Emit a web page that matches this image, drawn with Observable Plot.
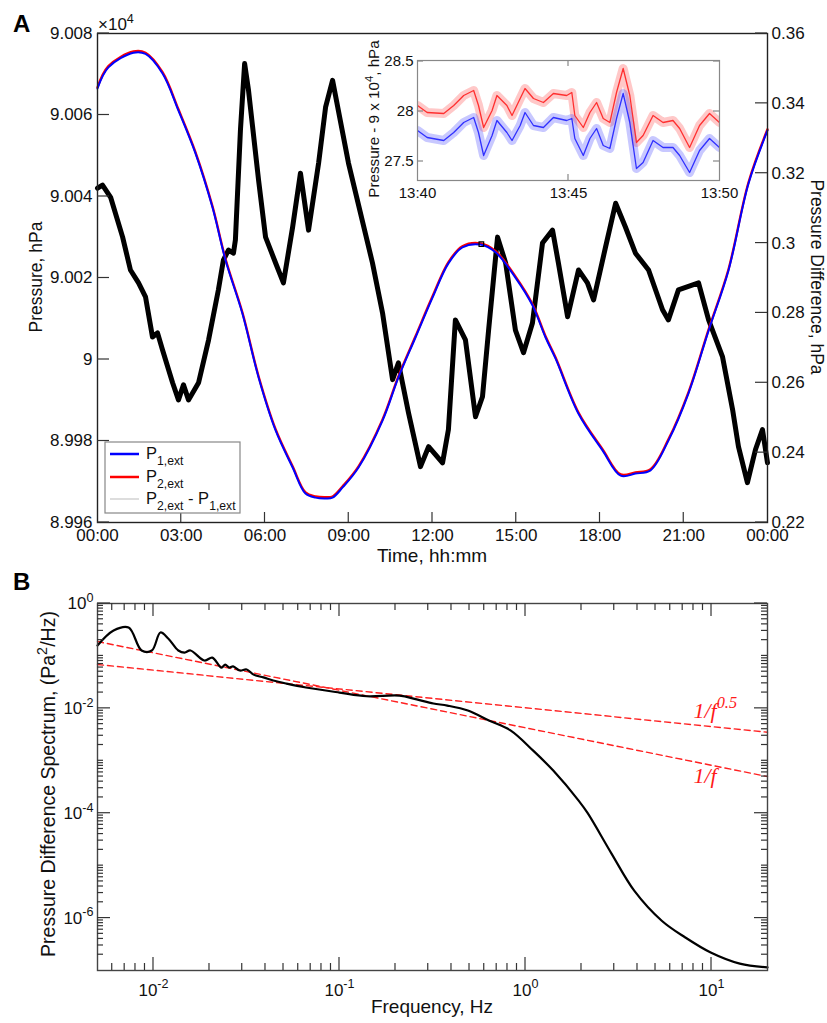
<!DOCTYPE html>
<html><head><meta charset="utf-8">
<script src="https://cdn.jsdelivr.net/npm/d3@7"></script>
<script src="https://cdn.jsdelivr.net/npm/@observablehq/plot@0.6"></script>
<style>
body{margin:0;background:#fff;}
#wrap{position:relative;width:827px;height:1023px;background:#fff;}
</style></head><body><div id="wrap"></div>
<script>
// ---------------- DATA ----------------
// Panel A: pressures (x10^4 hPa) vs time of day (hours)
const pTime = [0.00,0.39,1.29,1.72,2.33,2.90,3.51,4.12,4.59,5.19,5.77,6.38,6.99,7.45,7.81,8.17,8.42,8.78,9.35,10.21,10.78,11.39,12.00,12.57,13.07,13.72,14.26,14.97,15.58,16.05,16.41,17.23,18.09,18.74,19.27,19.81,20.45,21.17,21.89,22.60,23.32,24.00];
const p1 = [9.00665,9.00717,9.00753,9.00750,9.00702,9.00611,9.00506,9.00373,9.00243,9.00113,8.99956,8.99826,8.99735,8.99671,8.99661,8.99659,8.99661,8.99686,8.99735,8.99850,8.99956,9.00054,9.00152,9.00236,9.00275,9.00282,9.00263,9.00201,9.00133,9.00054,9.00002,8.99867,8.99777,8.99715,8.99720,8.99728,8.99801,8.99917,9.00071,9.00218,9.00432,9.00562];
const p2 = [9.00668,9.00720,9.00756,9.00753,9.00705,9.00614,9.00509,9.00376,9.00246,9.00116,8.99959,8.99829,8.99738,8.99674,8.99664,8.99662,8.99664,8.99689,8.99738,8.99853,8.99959,9.00057,9.00155,9.00239,9.00278,9.00285,9.00266,9.00204,9.00136,9.00057,9.00005,8.99870,8.99780,8.99718,8.99723,8.99731,8.99804,8.99920,9.00074,9.00221,9.00435,9.00565];
// Panel A: pressure difference (hPa, right axis)
const diffHours = [0.00,0.18,0.47,0.90,1.18,1.47,1.72,1.97,2.15,2.33,2.69,2.90,3.08,3.26,3.62,3.98,4.33,4.51,4.69,4.87,4.94,5.12,5.27,5.41,5.77,6.02,6.38,6.66,6.99,7.27,7.56,7.92,8.17,8.42,8.99,9.85,10.21,10.57,10.78,11.14,11.57,11.86,12.36,12.57,12.82,13.18,13.54,13.79,14.01,14.33,14.62,14.97,15.26,15.58,15.94,16.30,16.51,16.84,17.23,17.55,17.77,18.20,18.56,18.91,19.27,19.74,20.24,20.45,20.81,21.53,21.89,22.39,22.75,22.96,23.28,23.57,23.82,24.00];
const diffValues = [0.3157,0.3166,0.3131,0.3017,0.2923,0.2886,0.2846,0.2731,0.2743,0.2694,0.2600,0.2551,0.2594,0.2551,0.2600,0.2723,0.2866,0.2951,0.2980,0.2971,0.3009,0.3323,0.3514,0.3437,0.3180,0.3017,0.2943,0.2886,0.3046,0.3200,0.3037,0.3229,0.3389,0.3466,0.3229,0.2943,0.2800,0.2609,0.2657,0.2514,0.2360,0.2417,0.2371,0.2466,0.2780,0.2723,0.2503,0.2560,0.2751,0.3017,0.2943,0.2751,0.2686,0.2771,0.3000,0.3037,0.2943,0.2789,0.2923,0.2886,0.2837,0.2989,0.3114,0.3046,0.2971,0.2923,0.2809,0.2780,0.2866,0.2886,0.2780,0.2674,0.2523,0.2417,0.2314,0.2409,0.2466,0.2371];
// zoom marker
const markerTime = [13.75];
const markerPressure = [9.00283];
// Inset: minutes after 13:40, pressure - 9e4 hPa
const insetMinutes = [0,0.32,0.87,1.20,1.53,1.86,2.02,2.19,2.47,2.63,2.96,3.13,3.40,3.56,3.84,4.17,4.50,4.94,5.11,5.21,5.49,5.71,5.93,6.15,6.37,6.59,6.81,7.03,7.25,7.47,7.80,8.13,8.46,8.68,9.01,9.34,9.67,10.0];
const insetP2 = [28.06,27.99,27.98,28.06,28.16,28.21,28.06,27.84,28.01,28.16,28.06,27.96,28.13,28.23,28.13,28.09,28.18,28.16,28.19,27.96,27.84,27.99,28.09,27.93,27.89,28.19,28.43,28.16,27.69,27.76,27.96,27.89,27.91,27.83,27.64,27.86,27.98,27.89];
const insetP1 = [27.81,27.74,27.71,27.79,27.89,27.94,27.79,27.56,27.76,27.91,27.79,27.71,27.86,27.99,27.86,27.84,27.94,27.91,27.93,27.73,27.56,27.73,27.83,27.66,27.63,27.93,28.18,27.89,27.43,27.49,27.71,27.64,27.64,27.56,27.39,27.61,27.73,27.64];
// Panel B: spectrum
const specFreq = [0.005,0.0061,0.00735,0.00863,0.0098,0.0109,0.012,0.0136,0.0147,0.0158,0.0188,0.0207,0.0232,0.0243,0.0255,0.0268,0.0291,0.0317,0.0345,0.039,0.044,0.052,0.066,0.1,0.14,0.21,0.26,0.32,0.38,0.49,0.64,0.83,1.10,1.41,1.93,2.16,2.9,3.85,5.4,7.2,9.9,14.2,20];
const specPower = [0.158,0.305,0.348,0.127,0.127,0.28,0.215,0.127,0.116,0.127,0.0817,0.093,0.060,0.068,0.060,0.063,0.0527,0.055,0.044,0.039,0.034,0.0296,0.025,0.020,0.017,0.0175,0.0148,0.0124,0.0113,0.0091,0.0058,0.0038,0.00156,0.00065,1.74e-4,1.0e-4,1.7e-5,3.3e-6,8.9e-7,4.3e-7,2.2e-7,1.35e-7,1.15e-7];
// reference slopes (endpoints)
const fitFreq = [0.005,20];
const fitHalf = [0.0686,0.0035];
const fitOne = [0.188,5.0e-4];
const annotFreq = [8.0,8.0];
const annotPower = [0.0091,5.2e-4];
const annotLabels = ["1/f^{0.5}","1/f"];
// ticks
const timeTicks = [0,3,6,9,12,15,18,21,24];
const timeTickLabels = ["00:00","03:00","06:00","09:00","12:00","15:00","18:00","21:00","00:00"];
const leftTicks = [8.996,8.998,9.000,9.002,9.004,9.006,9.008];
const leftTickLabels = ["8.996","8.998","9","9.002","9.004","9.006","9.008"];
const rightTicks = [0.22,0.24,0.26,0.28,0.30,0.32,0.34,0.36];
const rightTickLabels = ["0.22","0.24","0.26","0.28","0.3","0.32","0.34","0.36"];
const insetYTicks = [27.5,28,28.5];
const insetYTickLabels = ["27.5","28","28.5"];
const insetXTicks = [0,5,10];
const insetXTickLabels = ["13:40","13:45","13:50"];
const freqMajor = [0.01,0.1,1,10];
const freqMajorLabels = ["10^{-2}","10^{-1}","10^{0}","10^{1}"];
const powLabeled = [1,1e-2,1e-4,1e-6];
const powLabels = ["10^{0}","10^{-2}","10^{-4}","10^{-6}"];

// ---------------- HELPERS ----------------
const FONT = '"Liberation Sans", Arial, Helvetica, sans-serif';
const SVGNS = "http://www.w3.org/2000/svg";
const wrap = document.getElementById("wrap");
function place(el, left, top){el.style.position="absolute";el.style.left=left+"px";el.style.top=top+"px";wrap.appendChild(el);return el;}
function lab(ticks, labels){return d => {const i = ticks.findIndex(t => Math.abs(t-d) < 1e-9*Math.max(1,Math.abs(d))); return i>=0 ? labels[i] : "";};}
function labelsY(data, anchor, pad, fmt){return Plot.axisY(data,{anchor, tickSize:0, tickPadding:pad, tickFormat:fmt, label:null});}
function labelsX(data, anchor, pad, fmt){return Plot.axisX(data,{anchor, tickSize:0, tickPadding:pad, tickFormat:fmt, label:null});}
function richify(root){
  root.querySelectorAll("text").forEach(el=>{
    const s = el.textContent;
    if(!/[\^_]\{/.test(s)) return;
    const fs = parseFloat(getComputedStyle(el).fontSize)||16;
    while(el.firstChild) el.removeChild(el.firstChild);
    const parts = s.split(/(\^\{[^}]*\}|_\{[^}]*\})/).filter(p=>p.length);
    let cur=0;
    for(const p of parts){
      const t=document.createElementNS(SVGNS,"tspan");
      let target=0, txt=p, small=false;
      if(p.startsWith("^{")){target=-0.42*fs;txt=p.slice(2,-1);small=true;}
      else if(p.startsWith("_{")){target=0.36*fs;txt=p.slice(2,-1);small=true;}
      if(target!==cur) t.setAttribute("dy",(target-cur).toFixed(2));
      cur=target;
      if(small) t.style.fontSize=(0.74*fs).toFixed(1)+"px";
      t.textContent=txt;
      el.appendChild(t);
    }
  });
}

// ---------------- PANEL A: pressure difference (bottom layer) ----------------
const diffData = diffHours.map((t,i)=>({t, v: diffValues[i]}));
const diffPlot = Plot.plot({
  width:827, height:570, marginTop:33, marginBottom:48, marginLeft:97, marginRight:60,
  x:{domain:[0,24], axis:null}, y:{domain:[0.22,0.36], axis:null},
  style:{fontFamily:FONT, fontSize:"17px", color:"#111", background:"transparent", overflow:"visible"},
  marks:[
    Plot.line(diffData,{x:"t",y:"v",stroke:"#000",strokeWidth:5,strokeLinejoin:"round"}),
    labelsY(rightTicks,"right",4,lab(rightTicks,rightTickLabels))
  ]
});
place(diffPlot,0,0);

// ---------------- PANEL A: pressures (top layer) ----------------
const pData = pTime.map((t,i)=>({t, p1:p1[i], p2:p2[i]}));
const markData = markerTime.map((t,i)=>({t, p:markerPressure[i]}));
const presPlot = Plot.plot({
  width:827, height:570, marginTop:33, marginBottom:48, marginLeft:97, marginRight:60,
  x:{domain:[0,24], axis:null}, y:{domain:[8.996,9.008], axis:null},
  style:{fontFamily:FONT, fontSize:"17px", color:"#111", background:"transparent", overflow:"visible"},
  marks:[
    Plot.line(pData,{x:"t",y:"p2",stroke:"#ff0000",strokeWidth:2.3,curve:"catmull-rom"}),
    Plot.line(pData,{x:"t",y:"p1",stroke:"#0000ff",strokeWidth:2,curve:"catmull-rom"}),
    Plot.dot(markData,{x:"t",y:"p",symbol:"square",r:2.6,stroke:"#000",fill:"none",strokeWidth:1.2}),
    Plot.frame({stroke:"#222",strokeWidth:1.4}),
    labelsY(leftTicks,"left",5,lab(leftTicks,leftTickLabels)),
    labelsX(timeTicks,"bottom",6,lab(timeTicks,timeTickLabels))
  ]
});
place(presPlot,0,0);

// ---------------- INSET ----------------
const insetData = insetMinutes.map((m,i)=>({m, a:insetP1[i], b:insetP2[i]}));
const insetPlot = Plot.plot({
  width:400, height:190, marginTop:40, marginBottom:30, marginLeft:77, marginRight:21,
  x:{domain:[0,10], axis:null}, y:{domain:[27.31,28.51], axis:null},
  style:{fontFamily:FONT, fontSize:"15px", color:"#111", background:"transparent", overflow:"visible"},
  marks:[
    Plot.frame({fill:"#fff"}),
    Plot.line(insetData,{x:"m",y:"b",stroke:"#ff3b3b",strokeWidth:9,strokeOpacity:0.28,clip:true}),
    Plot.line(insetData,{x:"m",y:"a",stroke:"#3b3bff",strokeWidth:9,strokeOpacity:0.28,clip:true}),
    Plot.line(insetData,{x:"m",y:"b",stroke:"#ff3030",strokeWidth:1.3,clip:true}),
    Plot.line(insetData,{x:"m",y:"a",stroke:"#3030ff",strokeWidth:1.3,clip:true}),
    Plot.frame({stroke:"#888",strokeWidth:1.2}),
    labelsY(insetYTicks,"left",4,lab(insetYTicks,insetYTickLabels)),
    labelsX(insetXTicks,"bottom",7,lab(insetXTicks,insetXTickLabels))
  ]
});
place(insetPlot,340,20);

// ---------------- PANEL B ----------------
const specData = specFreq.map((f,i)=>({f, s:specPower[i]}));
const halfData = fitFreq.map((f,i)=>({f, s:fitHalf[i]}));
const oneData = fitFreq.map((f,i)=>({f, s:fitOne[i]}));
const annData = annotFreq.map((f,i)=>({f, s:annotPower[i], label:annotLabels[i]}));
const freqMinor = [];
[0.001,0.01,0.1,1,10].forEach(d=>{for(let k=2;k<=9;k++){const v=+(k*d).toPrecision(3); if(v>0.005 && v<20) freqMinor.push(v);}});
const powMinor = [];
for(let e=-7;e<=0;e++){for(let k=1;k<=9;k++){const v=+(k*Math.pow(10,e)).toPrecision(3); if(v>1e-7 && v<1 && !powLabeled.includes(v)) powMinor.push(v);}}
const specPlot = Plot.plot({
  width:827, height:453, marginTop:33, marginBottom:53, marginLeft:97, marginRight:60,
  x:{type:"log", domain:[0.005,20], axis:null}, y:{type:"log", domain:[1e-7,1], axis:null},
  style:{fontFamily:FONT, fontSize:"17px", color:"#111", background:"transparent", overflow:"visible"},
  marks:[
    Plot.line(halfData,{x:"f",y:"s",stroke:"#ff2020",strokeWidth:1.4,strokeDasharray:"6,4"}),
    Plot.line(oneData,{x:"f",y:"s",stroke:"#ff2020",strokeWidth:1.4,strokeDasharray:"6,4"}),
    Plot.line(specData,{x:"f",y:"s",stroke:"#000",strokeWidth:2.2,curve:"catmull-rom"}),
    Plot.text(annData,{x:"f",y:"s",text:"label",fill:"#ff1a1a",fontFamily:'"Liberation Serif", "Times New Roman", serif',fontStyle:"italic",fontSize:22,textAnchor:"start"}),
    Plot.frame({stroke:"#444",strokeWidth:1.4}),
    labelsX(freqMajor,"bottom",13,lab(freqMajor,freqMajorLabels)),
    labelsY(powLabeled,"left",4,lab(powLabeled,powLabels))
  ]
});
place(specPlot,0,570);

// ---------------- OVERLAY (ticks via the plots' own scales, labels, legend) ----------------
const ov = document.createElementNS(SVGNS,"svg");
ov.setAttribute("width",827); ov.setAttribute("height",1023);
ov.style.fontFamily = FONT; ov.style.pointerEvents="none"; ov.style.background="transparent";
place(ov,0,0);
function addLine(x1,y1,x2,y2,stroke,w){const l=document.createElementNS(SVGNS,"line");l.setAttribute("x1",x1);l.setAttribute("y1",y1);l.setAttribute("x2",x2);l.setAttribute("y2",y2);l.setAttribute("stroke",stroke);l.setAttribute("stroke-width",w);ov.appendChild(l);}
function addText(o){
  const t=document.createElementNS(SVGNS,"text");
  t.setAttribute("x",o.x); t.setAttribute("y",o.y);
  t.setAttribute("text-anchor",o.anchor||"start");
  t.style.fontSize=(o.size||17)+"px";
  if(o.weight) t.style.fontWeight=o.weight;
  t.setAttribute("fill",o.fill||"#111");
  if(o.rotate) t.setAttribute("transform",`rotate(${o.rotate},${o.x},${o.y})`);
  t.textContent=o.text; ov.appendChild(t); return t;
}
// inward ticks: positions from each plot's scale, offset by where that plot sits on the page
function ticksY(plot, values, side, len, ox, oy, stroke){
  const sx = plot.scale("x"), sy = plot.scale("y");
  const [x0, x1] = [Math.min(...sx.range), Math.max(...sx.range)];
  values.forEach(v=>{const y = sy.apply(v)+oy; if(side==="left") addLine(x0+ox,y,x0+ox+len,y,stroke,1.2); else addLine(x1+ox-len,y,x1+ox,y,stroke,1.2);});
}
function ticksX(plot, values, side, len, ox, oy, stroke){
  const sx = plot.scale("x"), sy = plot.scale("y");
  const [y0, y1] = [Math.min(...sy.range), Math.max(...sy.range)];
  values.forEach(v=>{const x = sx.apply(v)+ox; if(side==="bottom") addLine(x,y1+oy,x,y1+oy-len,stroke,1.2); else addLine(x,y0+oy,x,y0+oy+len,stroke,1.2);});
}
ticksY(presPlot, leftTicks, "left", 12, 0, 0, "#333");
ticksY(diffPlot, rightTicks, "right", 12, 0, 0, "#333");
ticksX(presPlot, timeTicks.slice(1,-1), "bottom", 10, 0, 0, "#333");
ticksY(insetPlot, insetYTicks, "left", 6, 340, 20, "#888");
ticksY(insetPlot, insetYTicks, "right", 6, 340, 20, "#888");
ticksX(insetPlot, [5], "bottom", 6, 340, 20, "#888");
ticksX(insetPlot, [5], "top", 6, 340, 20, "#888");
ticksX(specPlot, freqMajor, "bottom", 13, 0, 570, "#333");
ticksX(specPlot, freqMinor, "bottom", 7, 0, 570, "#333");
ticksX(specPlot, freqMajor, "top", 13, 0, 570, "#333");
ticksX(specPlot, freqMinor, "top", 7, 0, 570, "#333");
ticksY(specPlot, powLabeled, "left", 13, 0, 570, "#333");
ticksY(specPlot, powMinor, "left", 6, 0, 570, "#333");
ticksY(specPlot, powLabeled, "right", 13, 0, 570, "#333");
ticksY(specPlot, powMinor, "right", 6, 0, 570, "#333");

addText({x:13,y:32,text:"A",size:24,weight:"bold",fill:"#000"});
addText({x:13,y:590,text:"B",size:24,weight:"bold",fill:"#000"});
addText({x:98,y:30,text:"\u00d710^{4}",size:17});
addText({x:42,y:277,text:"Pressure, hPa",size:17.5,anchor:"middle",rotate:-90});
addText({x:811,y:277,text:"Pressure Difference, hPa",size:17.5,anchor:"middle",rotate:90});
addText({x:432,y:562,text:"Time, hh:mm",size:19,anchor:"middle"});
addText({x:379,y:119,text:"Pressure - 9 x 10^{4}, hPa",size:15.2,anchor:"middle",rotate:-90});
addText({x:55,y:784,text:"Pressure Difference Spectrum, (Pa^{2}/Hz)",size:19.5,anchor:"middle",rotate:-90});
addText({x:432,y:1013,text:"Frequency, Hz",size:19,anchor:"middle"});
// legend
const rect=document.createElementNS(SVGNS,"rect");
rect.setAttribute("x",105);rect.setAttribute("y",442);rect.setAttribute("width",135);rect.setAttribute("height",71);
rect.setAttribute("fill","#fff");rect.setAttribute("stroke","#888");rect.setAttribute("stroke-width",1.2);ov.appendChild(rect);
addLine(110,454,139,454,"#0000ff",2.5);
addLine(110,477,139,477,"#ff0000",2.5);
addLine(110,499,139,499,"#bbbbbb",1);
addText({x:146,y:459,text:"P_{1,ext}",size:16.5});
addText({x:146,y:482,text:"P_{2,ext}",size:16.5});
addText({x:146,y:504,text:"P_{2,ext} - P_{1,ext}",size:16.5});

richify(wrap);
</script></body></html>
